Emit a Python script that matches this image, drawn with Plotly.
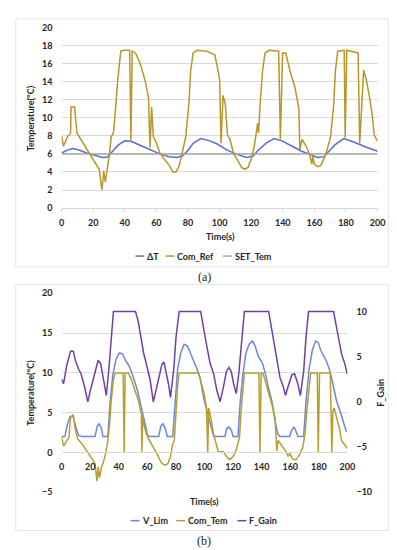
import plotly.graph_objects as go

# ---------------- Data: panel (a) ----------------
time_dT = [0, 4, 7, 10, 16, 22, 26, 29, 32, 36, 40, 44, 51, 57, 63, 68, 73, 76.5, 79.5, 83.5, 88, 94, 98.5,
           104.5, 111, 117, 121, 125, 129.5, 134.5, 139.5, 146, 152, 158, 162, 166, 169, 173, 178.5, 184.5, 193, 200]
delta_T = [6.1, 6.45, 6.6, 6.5, 6.1, 5.8, 5.6, 5.65, 6.2, 7.0, 7.45, 7.4, 6.85, 6.4, 5.95, 5.7, 5.6, 5.8, 6.3, 7.2,
           7.7, 7.45, 7.1, 6.45, 5.95, 5.6, 5.75, 6.5, 7.2, 7.7, 7.45, 6.85, 6.3, 5.9, 5.6, 5.7, 6.3, 7.0, 7.7, 7.35,
           6.75, 6.3]

time_ref = [0, 1.2, 3.7, 5.7, 6.0, 8.2, 9.8, 11.9, 15, 18, 20.1, 22.2, 23.8, 24.6, 25.6, 26.7, 27.7, 28.9, 30.4,
            31.4, 32.8, 34.1, 35.5, 37.5, 39.6, 43.1, 43.9, 44.7, 46.8, 49.8, 52.9, 55.0, 56.0, 57.0, 58.1, 60.1,
            62.2, 65.2, 68.3, 70.4, 72.4, 74.5, 76.5, 78.6, 80.6, 81.7, 83.3, 85.8, 91.9, 97.0, 99.1, 100.1, 100.9,
            102.2, 103.6, 105.0, 106.7, 108.7, 111.8, 113.9, 115.9, 118.0, 120.0, 122.0, 124.1, 124.7, 125.7, 127.2,
            128.8, 131.3, 137.4, 138.5, 139.9, 141.9, 144.6, 147.7, 150.2, 150.8, 152.2, 154.9, 157.0, 158.4, 159.0,
            160.0, 162.1, 164.1, 167.2, 170.3, 172.3, 173.3, 174.8, 177.4, 178.9, 179.5, 180.5, 187.7, 188.7, 191.2,
            192.8, 194.9, 196.5, 197.9, 200]
com_ref = [8.0, 6.85, 7.9, 8.3, 11.2, 11.2, 8.3, 7.7, 6.85, 6.0, 5.4, 4.85, 4.3, 3.2, 2.0, 4.1, 2.9, 4.3, 6.1,
           7.9, 8.3, 10.8, 14.1, 17.4, 17.5, 17.5, 7.5, 17.4, 17.2, 16.0, 14.1, 12.3, 6.7, 11.2, 7.9, 7.2,
           6.1, 5.4, 4.7, 4.0, 4.0, 4.7, 6.1, 7.9, 11.6, 15.2, 17.2, 17.5, 17.4, 17.0, 15.2, 14.1, 7.2,
           12.5, 11.6, 8.1, 7.6, 6.1, 5.2, 4.5, 4.3, 4.5, 5.4, 6.85, 9.4, 8.3, 11.6, 15.2,
           17.2, 17.5, 17.4, 7.6, 17.2, 17.2, 15.2, 13.4, 11.0, 6.5, 7.6, 6.85, 5.95, 4.85, 5.8,
           4.85, 4.6, 4.7, 5.95, 7.9, 11.6, 15.2, 17.4, 17.5, 17.5, 7.8, 17.5, 17.2, 7.2, 15.3,
           14.3, 12.3, 10.5, 8.1, 7.4]

time_set = [0, 200]
set_tem = [6, 6]

# ---------------- Data: panel (b) ----------------
time_vlim = [0, 2.3, 4.1, 5.9, 8.2, 9.8, 12, 14.3, 23.4, 25, 26.3, 27.9, 29, 32.4, 34, 35.8, 38.1, 40.4, 42.6, 44.9,
             47.2, 49.4, 52.8, 55.8, 58.5, 60.3, 61.9, 68, 69.4, 71, 72.6, 74, 77.8, 79.4, 81.2, 83.4, 85.7, 88,
             90.2, 92.5, 94.8, 97.1, 99.5, 101.8, 104.1, 106.3, 107.5, 114.3, 115.4, 117.2, 118.8, 120, 123.4, 125,
             126.8, 129, 131.3, 133.6, 135.4, 137.6, 140.4, 142.6, 144.9, 147.2, 149.4, 151.3, 152.9, 159.6, 160.8,
             162.6, 164.2, 165.3, 169.4, 171, 173.2, 175.5, 177.8, 179.6, 181.2, 183.4, 185.7, 188, 190.3, 192.5,
             194.8, 197.1, 199.3]
v_lim = [2.0, 2.0, 3.5, 4.5, 4.5, 3.3, 2.1, 2.0, 2.0, 3.3, 3.6, 3.0, 2.0, 2.0, 6.4, 9.7, 11.7, 12.5, 12.4, 11.5,
         10.9, 9.9, 8.0, 5.5, 3.3, 2.1, 2.0, 2.0, 3.3, 3.6, 3.0, 2.0, 2.0, 6.4, 10.5, 12.5, 13.6, 13.4,
         12.5, 11.5, 10.5, 9.2, 6.8, 5.2, 3.5, 2.1, 2.0, 2.0, 3.0, 3.2, 2.8, 2.0, 2.0, 6.4,
         9.7, 12.5, 13.6, 14.0, 13.4, 12.1, 11.3, 9.9, 8.0, 6.4, 4.0, 2.3, 2.0, 2.0, 2.7,
         3.2, 2.6, 2.0, 2.0, 6.4, 10.5, 12.9, 14.0, 13.8, 12.9, 12.1, 11.3, 10.1, 8.4, 6.4,
         5.2, 4.0, 2.6]

time_tem = [0, 1.4, 3, 5.2, 6.3, 8.2, 9.8, 11.3, 14.3, 16.6, 18.8, 21.1, 23.4, 24.8, 25.6, 26.5, 27.9, 29, 30.8,
            32.4, 33.6, 34.7, 36.3, 37.6, 43.1, 43.8, 44.5, 46.8, 49.4, 51.7, 54, 55.8, 56.2, 56.7, 58.1, 60.3, 63,
            65.3, 67.6, 69.8, 72.1, 74.4, 76.2, 77.8, 78.9, 80.1, 81.2, 82.3, 95.9, 98.2, 99.5, 101.4, 102.3, 102.9,
            104.5, 106.3, 108.1, 109.7, 113.1, 115.4, 117.7, 120, 121.8, 123.4, 124.5, 125.6, 126.8, 127.9, 138.1,
            138.8, 139.7, 140.8, 142.6, 144.9, 147.2, 149.4, 150.6, 151.5, 152.9, 155.1, 157.4, 158.5, 159.6,
            161.9, 164.2, 166.4, 168.7, 170.3, 171.6, 173.2, 174.3, 178.9, 179.6, 180.5, 188, 189.1, 189.8,
            190.7, 192.5, 194.3, 195.9, 197.5, 199.3, 200]
com_tem = [2.0, 0.8, 1.3, 1.9, 4.5, 4.7, 2.7, 1.7, 1.1, 0.5, -0.1, -0.8, -1.4, -3.6, -1.8, -3.2, -1.8, -1.4, -0.2,
           1.5, 3.5, 6.4, 9.2, 10, 10, 0, 10, 10, 8.9, 7.6, 6.4, 4.8, 0.1, 4.5, 3.1, 1.9, 1.1,
           0.3, -0.5, -1.3, -1.6, -1.4, -0.5, 1.1, 1.5, 5.2, 8.4, 10, 10, 8.4, 7.6, 5.6, 0, 5.6,
           4.3, 2.3, 1.1, 0.1, 0.1, -0.5, -0.9, -0.5, 0.1, 1.1, 1.9, 5.2, 8.4, 10, 10,
           0, 10, 10, 8.9, 7.6, 6.0, 4.3, 0.2, 1.5, 1.2, 0.6, 0.0, -0.5, -0.1,
           -0.9, -0.9, -0.3, 0.6, 2.3, 5.2, 8.4, 10, 10, 0, 10, 10, 0, 5.2,
           5.6, 4.3, 3.1, 1.5, 1.1, 0.6, 0.5]

time_gain = [0, 1.4, 3.6, 5.2, 6.3, 8.2, 9.8, 12, 13.6, 15.9, 18.4, 19.9, 22.2, 24, 25.6, 27.4, 29, 31.3, 33.1,
             34.7, 36.3, 51.7, 53.5, 55.8, 57.4, 59.6, 61.9, 64.2, 66.4, 68.7, 70.3, 71.6, 73.2, 74.8, 76.2, 78.5,
             80.1, 82.3, 97.3, 99.5, 101.8, 104, 106.4, 108.6, 110.9, 113.2, 115.4, 117.2, 118.8, 120.4, 122.2,
             124, 125.6, 127.9, 144.9, 147.2, 150.5, 152.8, 155.1, 156.7, 158.5, 161.2, 163, 165.3, 167.1, 169.4,
             171, 172.8, 190.3, 192.5, 195.9, 198.2, 199.8]
f_gain = [2.5, 2.0, 4.0, 5.1, 5.6, 5.6, 4.5, 3.6, 3.1, 1.8, 0.0, 1.1, 2.5, 3.8, 4.6, 4.2, 2.9, 0.7, 3.6,
          7.2, 10, 10, 9.0, 6.9, 5.4, 4.0, 2.5, 0.0, 1.6, 3.1, 4.2, 4.4, 3.3, 2.0, 0.5, 3.6,
          7.2, 10, 10, 7.8, 6.0, 4.2, 3.1, 1.3, 0.0, 1.6, 3.4, 3.8, 3.3, 2.0, 0.9,
          3.1, 6.3, 10, 10, 7.8, 4.5, 2.7, 1.7, 0.7, 1.7, 3.0, 3.1, 2.0, 0.7, 3.4,
          7.1, 10, 10, 8.2, 5.3, 4.2, 3.1]

x_ticks = [0, 20, 40, 60, 80, 100, 120, 140, 160, 180, 200]
ya_ticks = [0, 2, 4, 6, 8, 10, 12, 14, 16, 18, 20]
yb_ticks = [-5, 0, 5, 10, 15, 20]
yc_ticks = [-10, -5, 0, 5, 10]

# ---------------- Layout helpers ----------------
W, H = 397, 550
def px(x):
    return x / W
def py(y):
    return 1 - y / H

FONT = "Lato"
TXT = "#262626"
GRID = "#D9D9D9"
C_DT = "#5B6BD6"
C_REF = "#B8962A"
C_SET = "#A3AAA3"
C_VLIM = "#6E86DA"
C_TEM = "#B89E2E"
C_GAIN = "#6F3FA8"

fig = go.Figure()
fig.add_trace(go.Scatter(x=time_dT, y=delta_T, mode="lines", line=dict(color=C_DT, width=1.5),
                         xaxis="x", yaxis="y", name="ΔT"))
fig.add_trace(go.Scatter(x=time_set, y=set_tem, mode="lines", line=dict(color=C_SET, width=1.5),
                         xaxis="x", yaxis="y", name="SET_Tem"))
fig.add_trace(go.Scatter(x=time_ref, y=com_ref, mode="lines", line=dict(color=C_REF, width=1.5),
                         xaxis="x", yaxis="y", name="Com_Ref"))

fig.add_trace(go.Scatter(x=time_vlim, y=v_lim, mode="lines", line=dict(color=C_VLIM, width=1.5),
                         xaxis="x2", yaxis="y2", name="V_Lim"))
fig.add_trace(go.Scatter(x=time_tem, y=com_tem, mode="lines", line=dict(color=C_TEM, width=1.5),
                         xaxis="x2", yaxis="y2", name="Com_Tem"))
fig.add_trace(go.Scatter(x=time_gain, y=f_gain, mode="lines", line=dict(color=C_GAIN, width=1.5),
                         xaxis="x2", yaxis="y3", name="F_Gain"))

tick_font = dict(family=FONT, size=9, color=TXT, weight="bold")

ya_dom = [py(198), py(14)]
yb_dom = [py(488), py(285)]
x2_pos = yb_dom[0] + (0 - (-5)) / 25 * (yb_dom[1] - yb_dom[0])

fig.update_layout(
    width=W, height=H, autosize=False, showlegend=False,
    margin=dict(l=0, r=0, t=0, b=0),
    paper_bgcolor="white", plot_bgcolor="rgba(0,0,0,0)",
    xaxis=dict(domain=[px(52), px(377)], anchor="y", range=[0, 200], tickvals=x_ticks,
               showgrid=False, zeroline=False, showline=True, linecolor=GRID, linewidth=1,
               ticks="outside", ticklen=3, tickcolor=GRID, tickfont=tick_font, ticklabelstandoff=3),
    yaxis=dict(domain=ya_dom, anchor="x", range=[0, 20], tickvals=ya_ticks,
               showgrid=True, gridcolor=GRID, gridwidth=1, zeroline=False, showline=False,
               ticks="", tickfont=tick_font, ticklabelstandoff=8),
    xaxis2=dict(domain=[px(52), px(346)], anchor="free", position=x2_pos, range=[0, 200], tickvals=x_ticks,
                showgrid=False, zeroline=False, showline=True, linecolor=GRID, linewidth=1,
                ticks="", tickfont=tick_font, ticklabelstandoff=6),
    yaxis2=dict(domain=yb_dom, anchor="x2", range=[-5, 20], tickvals=yb_ticks,
                showgrid=True, gridcolor=GRID, gridwidth=1, zeroline=False, showline=False,
                ticks="", tickfont=tick_font, ticklabelstandoff=8),
    yaxis3=dict(domain=yb_dom, anchor="x2", overlaying="y2", side="right", range=[-10, 12],
                tickvals=yc_ticks, showgrid=False, zeroline=False, showline=False,
                ticks="", tickfont=tick_font, ticklabelstandoff=8),
)

# chart-area borders
for (x0, y0, x1, y1) in [(5, 5, 388, 258), (5, 276, 388, 527)]:
    fig.add_shape(type="rect", xref="paper", yref="paper", x0=px(x0), x1=px(x1), y0=py(y1), y1=py(y0),
                  line=dict(color="#E3E3E3", width=1), fillcolor="rgba(0,0,0,0)", layer="below")

ann = []
lab_font = dict(family=FONT, size=9, color=TXT, weight="bold")
# axis titles
ann.append(dict(x=px(20), y=py(106), text="Temperature(°C)", textangle=-90, font=lab_font))
ann.append(dict(x=px(20), y=py(386), text="Temperature(°C)", textangle=-90, font=lab_font))
ann.append(dict(x=px(380), y=py(386), text="F_Gain", textangle=-90, font=lab_font))
ann.append(dict(x=px(215), y=py(227), text="Time(s)", font=lab_font))
ann.append(dict(x=px(199), y=py(497), text="Time(s)", font=lab_font))
# panel labels
ann.append(dict(x=px(199), y=py(268), text="(a)", font=dict(family="Liberation Serif", size=12, color="#222")))
ann.append(dict(x=px(199), y=py(538), text="(b)", font=dict(family="Liberation Serif", size=12, color="#222")))

# legends: short line samples + labels
legend_items = [
    (128, 247, C_DT, "ΔT"), (159, 247, C_REF, "Com_Ref"), (218, 247, C_SET, "SET_Tem"),
    (123, 517, C_VLIM, "V_Lim"), (170, 517, C_TEM, "Com_Tem"), (233, 517, C_GAIN, "F_Gain"),
]
for (lx, ly, col, name) in legend_items:
    fig.add_shape(type="line", xref="paper", yref="paper", x0=px(lx), x1=px(lx + 9), y0=py(ly), y1=py(ly),
                  line=dict(color=col, width=1.5))
    ann.append(dict(x=px(lx + 10), y=py(ly), text=name, xanchor="left", font=lab_font))

for a in ann:
    a.setdefault("xref", "paper")
    a.setdefault("yref", "paper")
    a.setdefault("showarrow", False)
    a.setdefault("yanchor", "middle")
    a.setdefault("xanchor", "center")
fig.update_layout(annotations=ann)

fig.write_html("out.html")
